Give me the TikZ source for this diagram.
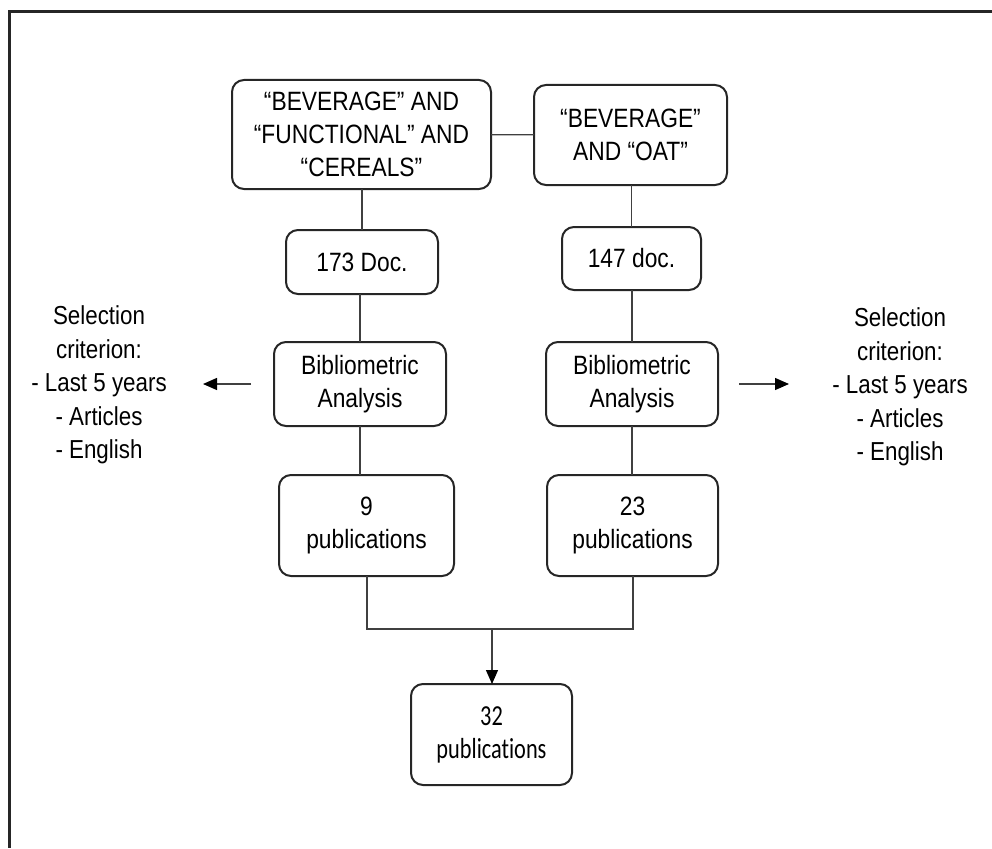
\documentclass[tikz,border=0pt]{standalone}
\usepackage{fontspec}
\setmainfont[FakeStretch=0.86]{Liberation Sans}
\newfontfamily\calibfont[Ligatures=NoCommon,FakeStretch=0.77]{Carlito}
\usetikzlibrary{arrows.meta}
\begin{document}
\begin{tikzpicture}[x=1pt,y=-1pt,
  box/.style={draw=black!85, line width=2pt, rounded corners=12pt, inner sep=0pt, outer sep=0pt, align=center,
    font=\fontsize{26.5}{33}\selectfont},
  conn/.style={draw=black!75, line width=1.3pt},
  arr/.style={conn, -{Triangle[length=14pt,width=12pt,fill=black,color=black]}},
  crit/.style={align=center, inner sep=0pt, font=\fontsize{26}{33.5}\selectfont}]
\useasboundingbox (0,0) rectangle (992,848);
\draw[line width=3pt, black!85] (8,12) -- (992,12);
\draw[line width=3pt, black!85] (9.5,11) -- (9.5,848);
\node[box, minimum width=259pt, minimum height=109pt] (A) at (361.5,134.5) {“BEVERAGE” AND\\“FUNCTIONAL” AND\\“CEREALS”};
\node[box, minimum width=193pt, minimum height=100pt] (B) at (630.5,135) {“BEVERAGE”\\AND “OAT”};
\node[box, minimum width=152pt, minimum height=64pt] (D1) at (362,262) {173 Doc.};
\node[box, minimum width=139pt, minimum height=63pt] (D2) at (631.5,258.5) {147 doc.};
\node[box, minimum width=172pt, minimum height=84pt] (BL) at (360,384) {Bibliometric\\Analysis};
\node[box, minimum width=172pt, minimum height=84pt] (BR) at (632,384) {Bibliometric\\Analysis};
\node[box, minimum width=175pt, minimum height=101pt] (P1) at (366.5,525.5) {9\\publications};
\node[box, minimum width=171pt, minimum height=101pt] (P2) at (632.5,525.5) {23\\publications};
\node[box, minimum width=161pt, minimum height=101pt, font=\calibfont\fontsize{29}{33}\selectfont] (P3) at (491.5,734.5) {32\\publications};
\node[crit] (CL) at (99,385) {Selection\\criterion:\\- Last 5 years\\- Articles\\- English};
\node[crit] (CR) at (900,387) {Selection\\criterion:\\- Last 5 years\\- Articles\\- English};
\coordinate (aL1) at (251,384);
\coordinate (aL2) at (203,384);
\coordinate (aR1) at (739,384);
\coordinate (aR2) at (789,384);
\coordinate (M1) at (367,629);
\coordinate (M2) at (633,629);
\coordinate (M0) at (492,629);
\draw[conn] (A) -- (B);
\draw[conn] (A.south -| D1.north) -- (D1.north);
\draw[conn] (B.south -| D2.north) -- (D2.north);
\draw[conn] (D1.south -| BL.north) -- (BL.north);
\draw[conn] (D2.south -| BR.north) -- (BR.north);
\draw[conn] (BL.south) -- (BL.south |- P1.north);
\draw[conn] (BR.south) -- (BR.south |- P2.north);
\draw[conn] (P1.south -| M1) -- (M1) -- (M2) -- (P2.south -| M2);
\draw[arr] (M0) -- (P3.north -| M0);
\draw[arr] (aL1) -- (aL2);
\draw[arr] (aR1) -- (aR2);
\end{tikzpicture}
\end{document}
